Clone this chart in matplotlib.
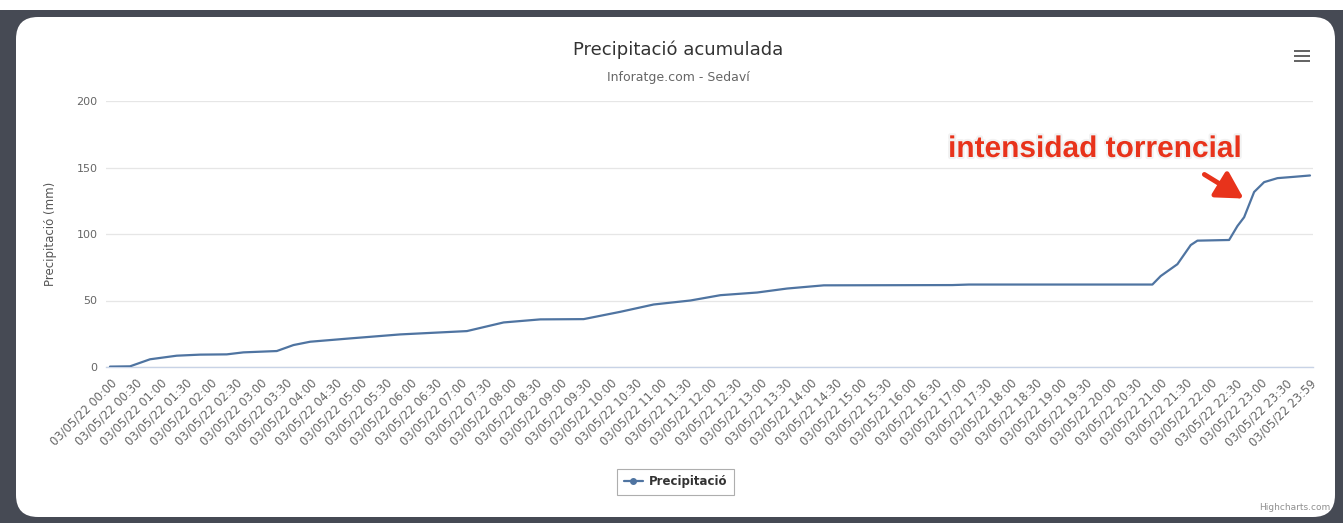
import matplotlib
matplotlib.use("Agg")
import matplotlib.pyplot as plt
import matplotlib.transforms as mtransforms
from matplotlib.patches import FancyBboxPatch, Rectangle, FancyArrowPatch
import matplotlib.patheffects as pe

# ---- data (minutes since 00:00, accumulated mm) ----
minutes = [0, 24, 48, 80, 108, 140, 160, 200, 220, 240, 288, 348, 428, 472,
           516, 568, 612, 652, 696, 732, 776, 812, 856, 1010, 1030, 1250,
           1260, 1280, 1296, 1304, 1342, 1352, 1360, 1372, 1384, 1400, 1420, 1439]
precip = [0.3, 0.5, 5.8, 8.5, 9.3, 9.5, 11, 12, 16.5, 19, 21.5, 24.5, 27, 33.5,
          35.8, 36, 41.5, 47, 50, 54, 56, 59, 61.4, 61.6, 62, 62,
          68.4, 77.3, 91.7, 95, 95.5, 106, 112.6, 131.6, 139, 142, 143, 144]
tick_minutes = list(range(0, 1440, 30)) + [1439]
tick_labels = ["03/05/22 %02d:%02d" % (m // 60, m % 60) for m in tick_minutes]
yticks = [0, 50, 100, 150, 200]

W, H = 1343, 523
fig = plt.figure(figsize=(W / 100, H / 100), dpi=100)
fig.patch.set_facecolor("white")
ident = mtransforms.IdentityTransform()

def px(x, y):
    return x, H - y

# dark frame and white rounded panel
fig.patches.append(Rectangle(px(0, H), W, H - 10, transform=ident,
                             facecolor="#464a54", edgecolor="none", zorder=-2))
fig.patches.append(FancyBboxPatch(px(16, 517), 1335 - 16, 517 - 17,
                                  boxstyle="round,pad=0,rounding_size=22",
                                  transform=ident, facecolor="white",
                                  edgecolor="none", zorder=-1))

ax = fig.add_axes([106 / W, (H - 367) / H, (1313 - 106) / W, (367 - 101) / H])
ax.set_zorder(2)
ax.set_facecolor("none")
ax.plot(minutes, precip, color="#4f74a1", lw=1.6, solid_capstyle="round",
        solid_joinstyle="round", label="Precipitació", zorder=3)
ax.set_xlim(-4.8, 1442.6)
ax.set_ylim(0, 200)
ax.set_yticks(yticks)
ax.set_yticklabels([str(v) for v in yticks], color="#666666", fontsize=8)
ax.set_xticks(tick_minutes)
ax.set_xticklabels(tick_labels, rotation=45, ha="right", va="top",
                   rotation_mode="anchor", color="#666666", fontsize=8.3)
ax.tick_params(axis="both", length=0)
ax.tick_params(axis="y", pad=6)
ax.tick_params(axis="x", pad=7)
for s in ["top", "right", "left"]:
    ax.spines[s].set_visible(False)
ax.spines["bottom"].set_color("#c8d3e6")
ax.spines["bottom"].set_linewidth(1.0)
ax.grid(axis="y", color="#e6e6e6", lw=0.9)
ax.set_axisbelow(True)
ax.set_ylabel("Precipitació (mm)", color="#555555", fontsize=8.5, labelpad=14)

# titles
fig.text(678 / W, (H - 50) / H, "Precipitació acumulada", ha="center",
         va="center", fontsize=13, color="#333333")
fig.text(678 / W, (H - 78) / H, "Inforatge.com - Sedaví", ha="center",
         va="center", fontsize=9, color="#666666")

# annotation
fig.text(1095 / W, (H - 149) / H, "intensidad torrencial", ha="center",
         va="center", fontsize=21.5, fontweight="bold", color="#e8331b",
         family="Liberation Sans", zorder=5,
         path_effects=[pe.withStroke(linewidth=3, foreground="#f2f2f2")])
arrow = FancyArrowPatch(px(1202, 173), px(1246, 200), transform=ident,
                        arrowstyle="-|>,head_length=16,head_width=9",
                        mutation_scale=1, color="#e8331b", lw=3.5, zorder=5)
fig.patches.append(arrow)

# hamburger menu
for dy in (-5, 0, 5):
    fig.patches.append(Rectangle(px(1294, 56 + dy + 1.2), 16, 2.6,
                                 transform=ident, facecolor="#666666",
                                 edgecolor="none", zorder=5))

# legend
leg = fig.legend(loc="center", bbox_to_anchor=(675.5 / W, (H - 482) / H),
                 frameon=True, fancybox=False, fontsize=8.5,
                 handlelength=1.6, handletextpad=0.5, borderpad=0.55)
leg.get_frame().set_edgecolor("#9a9a9a")
leg.get_frame().set_linewidth(0.8)
for t in leg.get_texts():
    t.set_fontweight("bold")
    t.set_color("#333333")
for h in leg.legend_handles:
    h.set_marker("o")
    h.set_markersize(4)

fig.text(1330 / W, (H - 507) / H, "Highcharts.com", ha="right", va="center",
         fontsize=6.5, color="#909090")

fig.savefig("out.png", dpi=100)
